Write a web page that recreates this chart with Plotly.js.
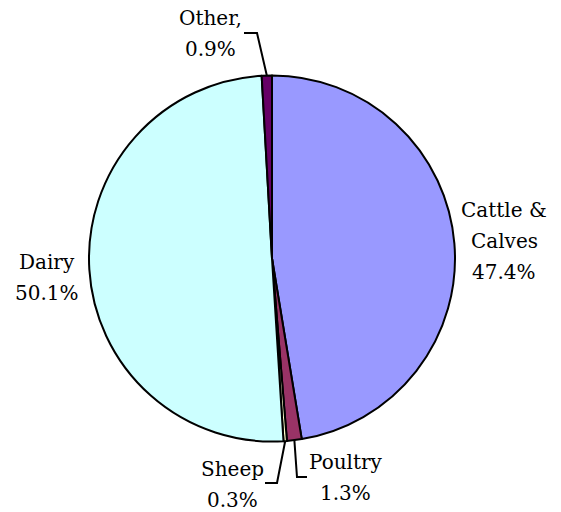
<!DOCTYPE html>
<html>
<head>
<meta charset="utf-8">
<script src="https://cdn.plot.ly/plotly-3.0.1.min.js"></script>
<style>html,body{margin:0;padding:0;background:#fff;}#chart{width:561px;height:512px;}</style>
</head>
<body>
<div id="chart"></div>
<script>
const categories = ["Cattle &<br>Calves", "Poultry", "Sheep", "Dairy", "Other,"];
const values = [47.4, 1.3, 0.3, 50.1, 0.9];
const pctLabels = ["47.4%", "1.3%", "0.3%", "50.1%", "0.9%"];
const colors = ["#9999FF", "#993366", "#FFFFCC", "#CCFFFF", "#660066"];

const W = 561, H = 512;
const cx = 272, cy = 258.5, R = 183;
const px = x => x / W;
const py = y => 1 - y / H;
const LINE = 31;

// label block centres and leader line elbows (pixel layout)
const labelPos = [[504, 241], [346, 477], [232, 484], [47, 277], [210, 33]];
const elbows = [null, [[297, 477], [307, 477]], [[277, 483], [265, 483]], null, [[257, 33], [244, 33]]];

const FONT = 'DejaVu Serif';

const total = values.reduce((a, b) => a + b, 0);
const annotations = [];
const shapes = [];
let cum = 0;
values.forEach((v, i) => {
  const mid = (cum + v / 2) / total * 2 * Math.PI;
  cum += v;
  const lines = (categories[i] + '<br>' + pctLabels[i]).split('<br>');
  lines.forEach((ln, k) => {
    const y = labelPos[i][1] + (k - (lines.length - 1) / 2) * LINE;
    annotations.push({
      x: px(labelPos[i][0]), y: py(y), xref: 'paper', yref: 'paper',
      text: ln, showarrow: false,
      font: {family: FONT, size: 20, color: '#000'},
      align: 'center', xanchor: 'center', yanchor: 'middle'
    });
  });
  if (elbows[i]) {
    const sx = cx + R * Math.sin(mid), sy = cy - R * Math.cos(mid);
    const pts = [[sx, sy]].concat(elbows[i]);
    let path = 'M' + pts.map(p => px(p[0]) + ',' + py(p[1])).join(' L');
    shapes.push({type: 'path', xref: 'paper', yref: 'paper', path: path,
      line: {color: '#000', width: 2}});
  }
});

const trace = {
  type: 'pie',
  labels: categories,
  values: values,
  sort: false,
  direction: 'clockwise',
  rotation: 0,
  textinfo: 'none',
  hoverinfo: 'label+percent',
  marker: {colors: colors, line: {color: '#000', width: 2}},
  domain: {x: [px(cx - R), px(cx + R)], y: [py(cy + R), py(cy - R)]},
  showlegend: false
};

Plotly.newPlot('chart', [trace], {
  width: W, height: H,
  margin: {l: 0, r: 0, t: 0, b: 0},
  paper_bgcolor: '#fff',
  font: {family: FONT, color: '#000'},
  showlegend: false,
  annotations: annotations,
  shapes: shapes
}, {displayModeBar: false, staticPlot: true});
</script>
</body>
</html>
